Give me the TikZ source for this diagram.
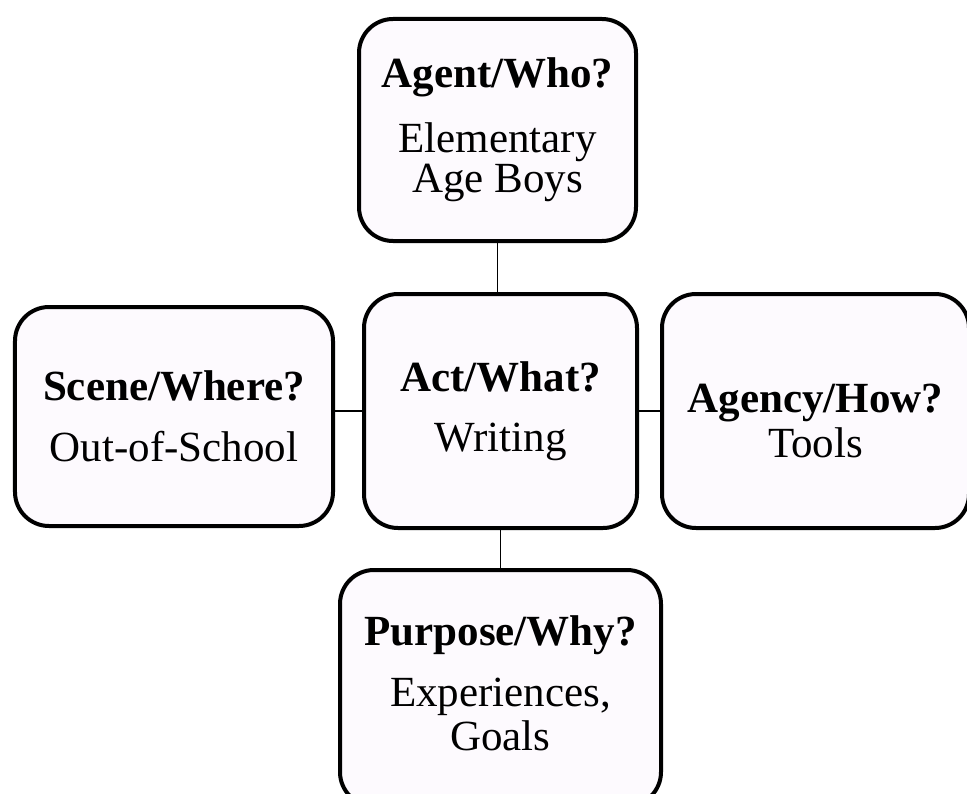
\documentclass[tikz,border=0pt]{standalone}
\usepackage{fontspec}
\setmainfont{Liberation Serif}
\usepackage{xcolor}
\usetikzlibrary{positioning}

\definecolor{boxfill}{RGB}{253,250,254}

\begin{document}
\begin{tikzpicture}[
    node distance=12pt,
    box/.style={rectangle, draw, line width=2pt, rounded corners=17pt, fill=boxfill, align=center, inner sep=0pt, font=\fontsize{21.5}{20}\selectfont},
    link/.style={line width=0.75pt}
]
    \useasboundingbox (-250.25pt,-191pt) rectangle (233.25pt,205.5pt);
    \fill[white] (-250.25pt,-191pt) rectangle (233.25pt,205.5pt);
    \clip (-250.25pt,-191pt) rectangle (233.25pt,205.5pt);

    % the act in the middle, the other four around it
    \node[box, minimum width=136.5pt, minimum height=117pt] (act) at (0,0) {\textbf{Act/What?}\\[10pt] Writing};
    \node[box, minimum width=138.5pt, minimum height=111pt, above=24.5pt of act, xshift=-1.5pt] (agent) {\textbf{Agent/Who?}\\[12.5pt] Elementary\\ Age Boys};
    \node[box, minimum width=159pt, minimum height=109.5pt, left=13.5pt of act, yshift=-2.75pt] (scene) {\textbf{Scene/Where?}\\[10.5pt] Out-of-School};
    \node[box, minimum width=153.5pt, minimum height=117pt, right=10.5pt of act] (agency) {\rule{0pt}{24pt}\textbf{Agency/How?}\\[2.5pt] Tools};
    \node[box, minimum width=160.5pt, minimum height=118pt, below=19pt of act] (purpose) {\textbf{Purpose/Why?}\\[10.5pt] Experiences,\\[2pt] Goals\rule[-5pt]{0pt}{0pt}};

    \draw[link] (agent.south) -- (agent.south |- act.north);
    \draw[link] (act.west) -- (act.west -| scene.east);
    \draw[link] (act.east) -- (agency.west);
    \draw[link] (act.south) -- (purpose.north);
\end{tikzpicture}
\end{document}
